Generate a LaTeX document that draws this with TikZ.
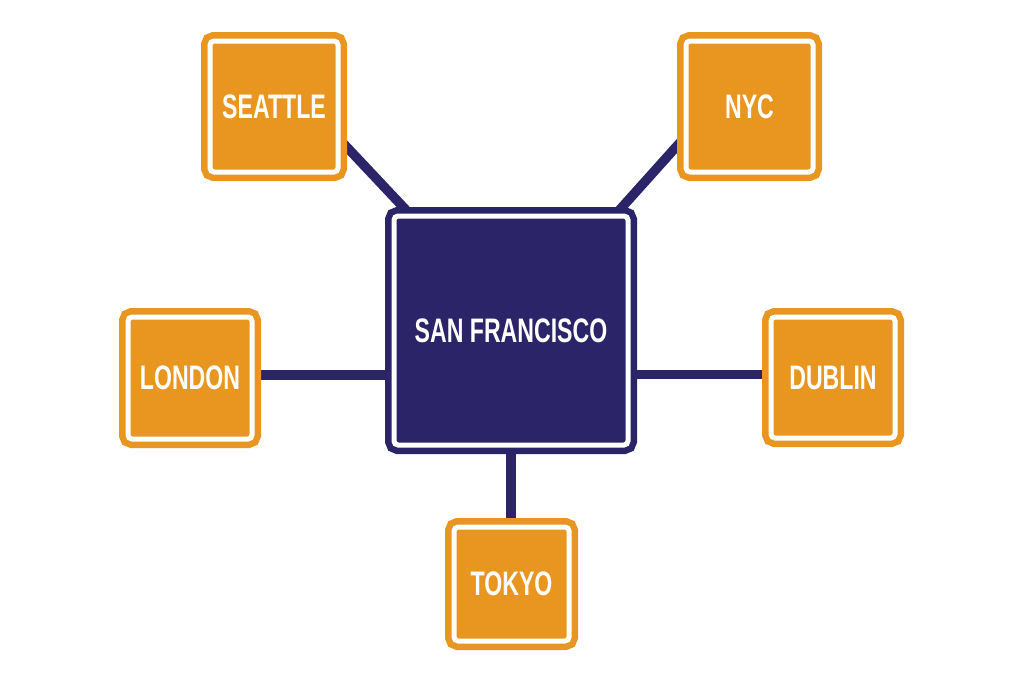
\documentclass[tikz,border=0pt]{standalone}
\usepackage{fontspec}
\newfontfamily\cityfont{Liberation Sans}[FakeStretch=0.68]
\usetikzlibrary{backgrounds}

\definecolor{hubnavy}{RGB}{43,36,104}
\definecolor{cityorange}{RGB}{232,150,32}

\tikzset{
  signbox/.style={rectangle, rounded corners=4pt, inner sep=0pt,
    draw=white, line width=5pt, fill=#1,
    preaction={draw=#1, line width=18pt},
    text=white, font=\cityfont\bfseries\fontsize{34}{38}\selectfont},
  hub/.style={signbox=hubnavy},
  city/.style={signbox=cityorange},
  link/.style={draw=hubnavy, line width=9.5pt}
}

\begin{document}
\begin{tikzpicture}[x=1pt, y=-1pt]

    % Page frame
    \useasboundingbox (0,0) rectangle (1024,683);

    % Center office
    \node[hub, minimum width=234pt, minimum height=229pt] (sf) at (511,330.5) {SAN FRANCISCO};

    % Branch offices
    \node[city, minimum width=128pt, minimum height=131pt] (seattle) at (274,106.5) {SEATTLE};
    \node[city, minimum width=127pt, minimum height=131pt] (nyc) at (749.5,106.5) {NYC};
    \node[city, minimum width=124pt, minimum height=122pt] (london) at (190,378) {LONDON};
    \node[city, minimum width=124pt, minimum height=121pt] (dublin) at (833,377.5) {DUBLIN};
    \node[city, minimum width=115pt, minimum height=114pt] (tokyo) at (511.5,584) {TOKYO};

    % Links, kept behind the boxes
    \begin{scope}[on background layer]
        \draw[link] (seattle.-27) -- (sf.131);
        \draw[link] (nyc.206) -- (sf.48);
        \draw[link] ([yshift=3pt]london.east) -- ([yshift=3pt]london.east -| sf.west);
        \draw[link] ([yshift=3pt]dublin.west) -- ([yshift=3pt]dublin.west -| sf.east);
        \draw[link] (sf.south) -- (sf.south |- tokyo.north);
    \end{scope}

\end{tikzpicture}
\end{document}
